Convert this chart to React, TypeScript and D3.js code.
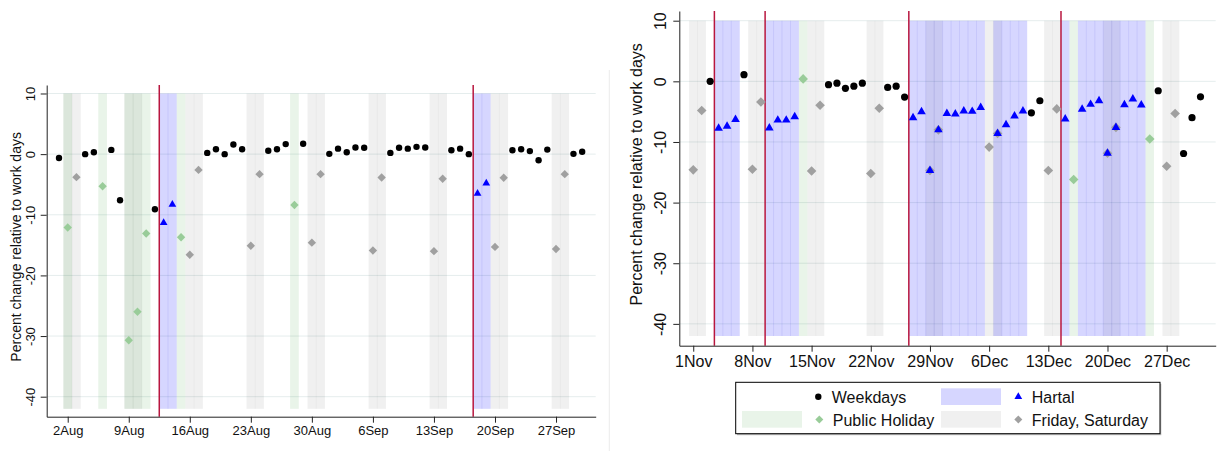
import React, { useRef, useEffect } from 'react';
import * as d3 from 'd3';

// daily values, percent change relative to work days (2013)
const leftWeekdays: [string, number][] = [
  ['2013-08-01', -0.65], ['2013-08-04', 0.0], ['2013-08-05', 0.3], ['2013-08-07', 0.7],
  ['2013-08-08', -7.6], ['2013-08-12', -9.1], ['2013-08-18', 0.2], ['2013-08-19', 0.8],
  ['2013-08-20', 0.0], ['2013-08-21', 1.6], ['2013-08-22', 0.8], ['2013-08-25', 0.55],
  ['2013-08-26', 0.8], ['2013-08-27', 1.65], ['2013-08-29', 1.7], ['2013-09-01', 0.05],
  ['2013-09-02', 0.9], ['2013-09-03', 0.3], ['2013-09-04', 1.1], ['2013-09-05', 1.05],
  ['2013-09-08', 0.2], ['2013-09-09', 1.05], ['2013-09-10', 0.9], ['2013-09-11', 1.2],
  ['2013-09-12', 1.1], ['2013-09-15', 0.65], ['2013-09-16', 0.9], ['2013-09-17', 0.0],
  ['2013-09-22', 0.65], ['2013-09-23', 0.8], ['2013-09-24', 0.5], ['2013-09-25', -1.0],
  ['2013-09-26', 0.75], ['2013-09-29', 0.05], ['2013-09-30', 0.4],
];
const leftHolidays: [string, number][] = [
  ['2013-08-02', -12.1], ['2013-08-06', -5.3], ['2013-08-09', -30.7], ['2013-08-10', -26.0],
  ['2013-08-11', -13.1], ['2013-08-15', -13.7], ['2013-08-28', -8.4],
];
const leftFriSat: [string, number][] = [
  ['2013-08-03', -3.8], ['2013-08-16', -16.6], ['2013-08-17', -2.6], ['2013-08-23', -15.1],
  ['2013-08-24', -3.3], ['2013-08-30', -14.6], ['2013-08-31', -3.3], ['2013-09-06', -15.9],
  ['2013-09-07', -3.85], ['2013-09-13', -16.0], ['2013-09-14', -4.05], ['2013-09-20', -15.3],
  ['2013-09-21', -3.9], ['2013-09-27', -15.65], ['2013-09-28', -3.3],
];
const leftHartal: [string, number][] = [
  ['2013-08-13', -11.3], ['2013-08-14', -8.3], ['2013-09-18', -6.5], ['2013-09-19', -4.8],
];
const leftFriSatDays = ['2013-08-02', '2013-08-03', '2013-08-09', '2013-08-10', '2013-08-16', '2013-08-17',
  '2013-08-23', '2013-08-24', '2013-08-30', '2013-08-31', '2013-09-06', '2013-09-07', '2013-09-13',
  '2013-09-14', '2013-09-20', '2013-09-21', '2013-09-27', '2013-09-28'];
const leftHolidayDays = ['2013-08-02', '2013-08-06', '2013-08-09', '2013-08-10', '2013-08-11', '2013-08-15', '2013-08-28'];
const leftHartalDays = ['2013-08-13', '2013-08-14', '2013-09-18', '2013-09-19'];
const leftHartalStarts = ['2013-08-13', '2013-09-18'];
const leftTicks = ['2013-08-02', '2013-08-09', '2013-08-16', '2013-08-23', '2013-08-30',
  '2013-09-06', '2013-09-13', '2013-09-20', '2013-09-27'];
const leftTickLabels = ['2Aug', '9Aug', '16Aug', '23Aug', '30Aug', '6Sep', '13Sep', '20Sep', '27Sep'];

const rightWeekdays: [string, number][] = [
  ['2013-11-03', 0.0], ['2013-11-07', 1.1], ['2013-11-17', -0.55], ['2013-11-18', -0.3],
  ['2013-11-19', -1.15], ['2013-11-20', -0.8], ['2013-11-21', -0.3], ['2013-11-24', -1.0],
  ['2013-11-25', -0.8], ['2013-11-26', -2.6], ['2013-12-11', -5.2], ['2013-12-12', -3.2],
  ['2013-12-26', -1.55], ['2013-12-29', -11.9], ['2013-12-30', -6.0], ['2013-12-31', -2.55],
];
const rightHolidays: [string, number][] = [
  ['2013-11-14', 0.4], ['2013-12-16', -16.2], ['2013-12-25', -9.5],
];
const rightFriSat: [string, number][] = [
  ['2013-11-01', -14.6], ['2013-11-02', -4.8], ['2013-11-08', -14.5], ['2013-11-09', -3.4],
  ['2013-11-15', -14.8], ['2013-11-16', -3.95], ['2013-11-22', -15.2], ['2013-11-23', -4.45],
  ['2013-11-29', -14.7], ['2013-11-30', -8.0], ['2013-12-06', -10.85], ['2013-12-07', -8.6],
  ['2013-12-13', -14.7], ['2013-12-14', -4.55], ['2013-12-20', -11.85], ['2013-12-21', -7.6],
  ['2013-12-27', -14.0], ['2013-12-28', -5.3],
];
const rightHartal: [string, number][] = [
  ['2013-11-04', -7.75], ['2013-11-05', -7.4], ['2013-11-06', -6.3], ['2013-11-10', -7.7],
  ['2013-11-11', -6.4], ['2013-11-12', -6.4], ['2013-11-13', -5.85], ['2013-11-27', -6.0],
  ['2013-11-28', -5.0], ['2013-11-29', -14.7], ['2013-11-30', -8.0], ['2013-12-01', -5.3],
  ['2013-12-02', -5.4], ['2013-12-03', -4.9], ['2013-12-04', -4.95], ['2013-12-05', -4.3],
  ['2013-12-07', -8.6], ['2013-12-08', -7.15], ['2013-12-09', -5.7], ['2013-12-10', -4.9],
  ['2013-12-15', -6.2], ['2013-12-17', -4.6], ['2013-12-18', -3.8], ['2013-12-19', -3.2],
  ['2013-12-20', -11.85], ['2013-12-21', -7.6], ['2013-12-22', -3.85], ['2013-12-23', -2.9],
  ['2013-12-24', -3.9],
];
const rightFriSatDays = rightFriSat.map(d => d[0]);
const rightHolidayDays = rightHolidays.map(d => d[0]);
const rightHartalDays = rightHartal.map(d => d[0]);
const rightHartalStarts = ['2013-11-04', '2013-11-10', '2013-11-27', '2013-12-15'];
const rightTicks = ['2013-11-01', '2013-11-08', '2013-11-15', '2013-11-22', '2013-11-29',
  '2013-12-06', '2013-12-13', '2013-12-20', '2013-12-27'];
const rightTickLabels = ['1Nov', '8Nov', '15Nov', '22Nov', '29Nov', '6Dec', '13Dec', '20Dec', '27Dec'];

const yTicks = [-40, -30, -20, -10, 0, 10];

const parse = d3.timeParse('%Y-%m-%d');

const panels = [
  {
    base: '2013-08-01', xDomain: [-1.41, 61.55], xRange: [46.7, 595.7],
    yDomain: [-43.3, 11.4], yRange: [416.7, 85], font: 13, titleFont: 14,
    titleX: 20.5, yLabelOff: 11.7, xLabelOff: 18.3, r: 3.2, tri: 26, dia: 4.2,
    weekdays: leftWeekdays, holidays: leftHolidays, friSat: leftFriSat, hartal: leftHartal,
    friSatDays: leftFriSatDays, holidayDays: leftHolidayDays, hartalDays: leftHartalDays,
    starts: leftHartalStarts, ticks: leftTicks, tickLabels: leftTickLabels,
  },
  {
    base: '2013-11-01', xDomain: [-1.65, 61.8], xRange: [679.3, 1215.7],
    yDomain: [-43.6, 11.6], yRange: [345.7, 11], font: 16, titleFont: 16,
    titleX: 641.7, yLabelOff: 13.8, xLabelOff: 21, r: 3.6, tri: 32, dia: 4.8,
    weekdays: rightWeekdays, holidays: rightHolidays, friSat: rightFriSat, hartal: rightHartal,
    friSatDays: rightFriSatDays, holidayDays: rightHolidayDays, hartalDays: rightHartalDays,
    starts: rightHartalStarts, ticks: rightTicks, tickLabels: rightTickLabels,
  },
];

const FONT = '"Liberation Sans", Arial, Helvetica, sans-serif';
const diamond = (h: number) => `M0,${-h}L${h},0L0,${h}L${-h},0Z`;

const App = () => {
  const svgRef = useRef<SVGSVGElement>(null);

  useEffect(() => {
    const svg = d3.select(svgRef.current);
    svg.selectAll('*').remove();

    // faint border of the left graph
    svg.append('line').attr('x1', 609.3).attr('x2', 609.3).attr('y1', 70).attr('y2', 451)
      .attr('stroke', '#ececec').attr('stroke-width', 1);

    panels.forEach(p => {
      const base = parse(p.base)!;
      const day = (s: string) => d3.timeDay.count(base, parse(s)!);
      const x = d3.scaleLinear().domain(p.xDomain).range(p.xRange);
      const y = d3.scaleLinear().domain(p.yDomain).range(p.yRange);
      const g = svg.append('g');

      // gridlines
      g.selectAll('.grid').data(yTicks).enter().append('line')
        .attr('x1', p.xRange[0]).attr('x2', p.xRange[1])
        .attr('y1', d => y(d)).attr('y2', d => y(d))
        .attr('stroke', '#e5eded').attr('stroke-width', 1);

      // shaded day bands
      const bands = [
        { days: p.friSatDays, fill: 'rgba(0,0,0,0.06)', line: 'rgba(0,0,0,0.035)' },
        { days: p.holidayDays, fill: 'rgba(0,128,0,0.085)', line: 'rgba(0,100,0,0.04)' },
        { days: p.hartalDays, fill: 'rgba(0,0,255,0.16)', line: 'rgba(0,0,200,0.08)' },
      ];
      bands.forEach(b => {
        const ds = b.days.map(day);
        g.selectAll(null).data(ds).enter().append('rect')
          .attr('x', d => x(d - 0.5)).attr('width', d => x(d + 0.5) - x(d - 0.5))
          .attr('y', y(10)).attr('height', y(-42) - y(10))
          .attr('fill', b.fill);
        const inner = ds.filter(d => ds.includes(d + 1));
        g.selectAll(null).data(inner).enter().append('line')
          .attr('x1', d => x(d + 0.5)).attr('x2', d => x(d + 0.5))
          .attr('y1', y(10)).attr('y2', y(-42))
          .attr('stroke', b.line).attr('stroke-width', 1);
      });

      // hartal start lines
      g.selectAll(null).data(p.starts.map(day)).enter().append('line')
        .attr('x1', d => x(d - 0.5)).attr('x2', d => x(d - 0.5))
        .attr('y1', p.yRange[1]).attr('y2', p.yRange[0])
        .attr('stroke', '#b8163f').attr('stroke-width', 1.5);

      // axes
      const yAxis = g.append('g').attr('transform', `translate(${p.xRange[0]},0)`)
        .call(d3.axisLeft(y).tickValues(yTicks).tickSize(6).tickSizeOuter(0).tickFormat(d => String(d)));
      yAxis.selectAll('text')
        .attr('transform', 'rotate(-90)').attr('x', 0).attr('y', -p.yLabelOff).attr('dy', 0)
        .attr('text-anchor', 'middle');
      const xAxis = g.append('g').attr('transform', `translate(0,${p.yRange[0]})`)
        .call(d3.axisBottom(x).tickValues(p.ticks.map(day)).tickSize(6).tickSizeOuter(0)
          .tickFormat((_, i) => p.tickLabels[i]));
      xAxis.selectAll('text').attr('y', p.xLabelOff).attr('dy', 0);
      [yAxis, xAxis].forEach(a => {
        a.attr('font-family', FONT).attr('font-size', p.font);
        a.selectAll('path, line').attr('stroke', '#222');
        a.selectAll('text').attr('fill', '#111');
      });

      g.append('text')
        .attr('transform', `translate(${p.titleX},${(p.yRange[0] + p.yRange[1]) / 2 - 4}) rotate(-90)`)
        .attr('text-anchor', 'middle').attr('font-family', FONT).attr('font-size', p.titleFont)
        .attr('fill', '#111').text('Percent change relative to work days');

      // markers
      g.selectAll(null).data(p.weekdays).enter().append('circle')
        .attr('cx', d => x(day(d[0]))).attr('cy', d => y(d[1])).attr('r', p.r).attr('fill', '#000');
      g.selectAll(null).data(p.holidays).enter().append('path')
        .attr('transform', d => `translate(${x(day(d[0]))},${y(d[1])})`)
        .attr('d', diamond(p.dia)).attr('fill', '#99cc99');
      g.selectAll(null).data(p.friSat).enter().append('path')
        .attr('transform', d => `translate(${x(day(d[0]))},${y(d[1])})`)
        .attr('d', diamond(p.dia)).attr('fill', '#a0a0a0');
      g.selectAll(null).data(p.hartal).enter().append('path')
        .attr('transform', d => `translate(${x(day(d[0]))},${y(d[1])})`)
        .attr('d', d3.symbol(d3.symbolTriangle, p.tri)()).attr('fill', '#0000ff');
    });

    // legend
    const lg = svg.append('g').attr('font-family', FONT).attr('font-size', 16).attr('fill', '#111');
    lg.append('rect').attr('x', 737).attr('y', 383.8).attr('width', 424.3).attr('height', 51.4)
      .attr('fill', '#bbb');
    lg.append('rect').attr('x', 735.7).attr('y', 382.3).attr('width', 424.3).attr('height', 51.4)
      .attr('fill', '#fff').attr('stroke', '#000').attr('stroke-width', 1);
    const items = [
      { key: null, mark: 'dot', color: '#000', label: 'Weekdays', kx: 742, mx: 818.3, row: 0 },
      { key: 'rgba(0,0,255,0.16)', mark: 'tri', color: '#0000ff', label: 'Hartal', kx: 941, mx: 1018.3, row: 0 },
      { key: 'rgba(0,128,0,0.085)', mark: 'dia', color: '#99cc99', label: 'Public Holiday', kx: 742, mx: 819.3, row: 1 },
      { key: 'rgba(0,0,0,0.06)', mark: 'dia', color: '#a0a0a0', label: 'Friday, Saturday', kx: 941, mx: 1018.3, row: 1 },
    ];
    items.forEach(it => {
      const top = it.row === 0 ? 388.3 : 411;
      const cy = top + 8.4;
      if (it.key) lg.append('rect').attr('x', it.kx).attr('y', top).attr('width', 60).attr('height', 16.7).attr('fill', it.key);
      if (it.mark === 'dot') lg.append('circle').attr('cx', it.mx).attr('cy', cy).attr('r', 3.2).attr('fill', it.color);
      if (it.mark === 'tri') lg.append('path').attr('transform', `translate(${it.mx},${cy})`)
        .attr('d', d3.symbol(d3.symbolTriangle, 26)()).attr('fill', it.color);
      if (it.mark === 'dia') lg.append('path').attr('transform', `translate(${it.mx},${cy})`)
        .attr('d', diamond(4)).attr('fill', it.color);
      lg.append('text').attr('x', it.mx + 13.5).attr('y', top + 15).text(it.label);
    });
  }, []);

  return (
    <svg ref={svgRef} width={1217} height={451}
      style={{ position: 'absolute', left: 0, top: 0, background: '#fff' }} />
  );
};

export default App;
